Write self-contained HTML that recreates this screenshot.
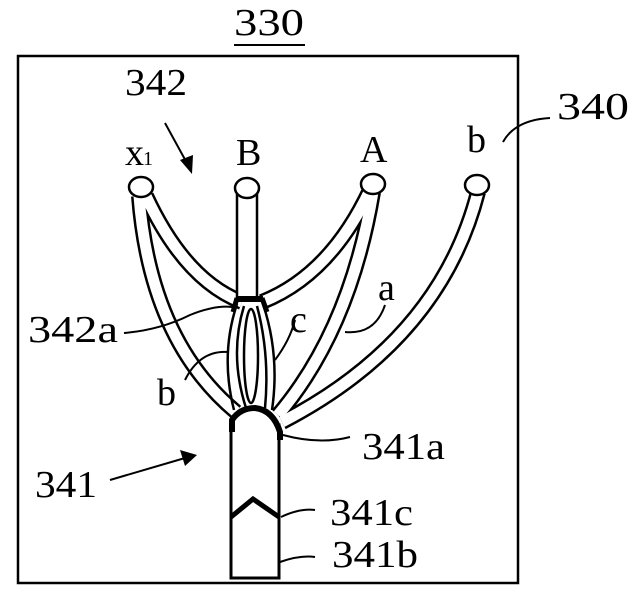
<!DOCTYPE html>
<html><head><meta charset="utf-8"><style>
html,body{margin:0;padding:0;background:#fff;}
svg text{font-family:"Liberation Serif",serif;fill:#000;font-size:38px;}
</style></head><body>
<svg width="638" height="592" viewBox="0 0 638 592" xmlns="http://www.w3.org/2000/svg">
<rect x="18" y="56" width="500" height="527" fill="none" stroke="#000" stroke-width="2.5"/>
<text x="234" y="35" textLength="70" lengthAdjust="spacingAndGlyphs">330</text>
<line x1="234" y1="45" x2="305" y2="45" stroke="#000" stroke-width="2"/>
<text x="125" y="95" textLength="62" lengthAdjust="spacingAndGlyphs">342</text>
<line x1="165" y1="123" x2="188" y2="165" stroke="#000" stroke-width="2"/>
<polygon points="192,174 180,160 193,155" fill="#000"/>
<text x="557" y="119" textLength="72" lengthAdjust="spacingAndGlyphs">340</text>
<path d="M503,142 Q515,120 550,118" fill="none" stroke="#000" stroke-width="2"/>
<text x="125" y="165">x</text><text x="143" y="165" style="font-size:20px">1</text>
<text x="236" y="165">B</text>
<text x="360" y="162">A</text>
<text x="467" y="152">b</text>
<g fill="none" stroke-linecap="butt">
<g stroke="#000" stroke-width="16">
<path d="M139,196 Q150,340 236,412"/>
<path d="M146,196 Q185,280 242,302"/>
<path d="M370,190 Q330,275 262,302"/>
<path d="M373,192 Q350,330 278,415"/>
<path d="M478,192 Q440,340 282,422"/>
</g>
<g stroke="#fff" stroke-width="11">
<path d="M139,196 Q150,340 236,412"/>
<path d="M146,196 Q185,280 242,302"/>
<path d="M370,190 Q330,275 262,302"/>
<path d="M373,192 Q350,330 278,415"/>
<path d="M478,192 Q440,340 282,422"/>
</g>
<rect x="237" y="194" width="20" height="104" fill="#fff" stroke="#000" stroke-width="2.5"/>
<path d="M237,304 Q220,355 234,410 M263,304 Q280,355 272,410" stroke="#000" stroke-width="2.5"/>
<path d="M244,306 Q229,355 246,408 M257,306 Q270,355 265,408" stroke="#000" stroke-width="2.5"/>
<ellipse cx="251" cy="356" rx="7" ry="47" stroke="#000" stroke-width="2.5" fill="#fff"/>
</g>
<path d="M236,299 L263,299" stroke="#000" stroke-width="6"/>
<path d="M237,298 L233,312 M262,298 L267,312" stroke="#000" stroke-width="5"/>
<rect x="231" y="425" width="48" height="153" fill="#fff" stroke="#000" stroke-width="3"/>
<path d="M232,432 L232,420 Q240,408 255,408 Q273,410 280,432 L280,440" fill="#fff" stroke="#000" stroke-width="6"/>
<path d="M231,517 L253,499 L279,517" fill="none" stroke="#000" stroke-width="5"/>
<g fill="#fff" stroke="#000" stroke-width="2.5">
<ellipse cx="141" cy="187" rx="12" ry="10"/>
<ellipse cx="247" cy="188" rx="12" ry="10"/>
<ellipse cx="373" cy="184" rx="12" ry="10"/>
<ellipse cx="477" cy="185" rx="12" ry="10"/>
</g>
<g fill="none" stroke="#000" stroke-width="2">
<path d="M124,333 Q160,330 190,315 Q215,305 232,307"/>
<path d="M228,352 Q200,350 185,380"/>
<path d="M275,360 Q290,340 295,320"/>
<path d="M345,332 Q375,335 385,305"/>
<path d="M283,435 Q320,445 350,437"/>
<path d="M281,517 Q300,508 315,510"/>
<path d="M280,562 Q300,555 315,557"/>
<line x1="110" y1="480" x2="185" y2="458"/>
</g>
<polygon points="197,455 180,450 185,466" fill="#000"/>
<text x="28" y="342" textLength="90" lengthAdjust="spacingAndGlyphs">342a</text>
<text x="290" y="332">c</text>
<text x="378" y="300">a</text>
<text x="157" y="405">b</text>
<text x="362" y="459" textLength="83" lengthAdjust="spacingAndGlyphs">341a</text>
<text x="35" y="497" textLength="62" lengthAdjust="spacingAndGlyphs">341</text>
<text x="330" y="525" textLength="83" lengthAdjust="spacingAndGlyphs">341c</text>
<text x="332" y="567" textLength="86" lengthAdjust="spacingAndGlyphs">341b</text>
</svg>
</body></html>
